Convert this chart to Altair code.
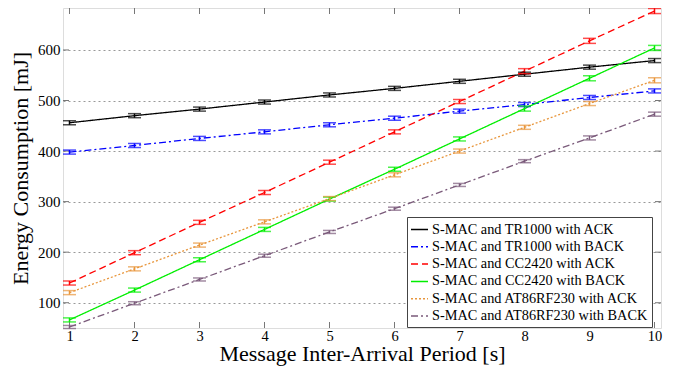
import altair as alt
import pandas as pd

periods = [1, 2, 3, 4, 5, 6, 7, 8, 9, 10]

series_names = [
    "S-MAC and TR1000 with ACK",
    "S-MAC and TR1000 with BACK",
    "S-MAC and CC2420 with ACK",
    "S-MAC and CC2420 with BACK",
    "S-MAC and AT86RF230 with ACK",
    "S-MAC and AT86RF230 with BACK",
]

tr1000_ack = [456, 470, 483, 497, 511, 524, 538, 552, 566, 579]
tr1000_back = [398, 411, 425, 438, 452, 465, 479, 492, 506, 519]
cc2420_ack = [139, 199, 259, 318, 378, 438, 498, 558, 618, 677]
cc2420_back = [66, 125, 185, 245, 305, 364, 424, 484, 544, 604]
at86_ack = [120, 167, 214, 260, 306, 353, 400, 447, 494, 540]
at86_back = [52, 99, 146, 193, 240, 286, 333, 380, 426, 473]

err_tr1000_ack = [4, 4, 4, 4, 4, 4, 4, 4, 4, 4]
err_tr1000_back = [4, 4, 4, 4, 4, 4, 4, 4, 4, 4]
err_cc2420_ack = [4, 4, 4, 4, 4, 4, 4, 5, 5, 5]
err_cc2420_back = [4, 4, 4, 4, 4, 4, 4, 5, 5, 5]
err_at86_ack = [4, 4, 4, 4, 4, 4, 4, 4, 4, 5]
err_at86_back = [3, 3, 3, 3, 3, 3, 3, 3, 4, 4]

x_ticks = [1, 2, 3, 4, 5, 6, 7, 8, 9, 10]
y_ticks = [100, 200, 300, 400, 500, 600]

colors = ["#000000", "#0000ff", "#ff0000", "#00ee00", "#e8963c", "#7a5a7a"]
dashes = [[1, 0], [7, 3, 2, 3], [7, 4], [1, 0], [2, 2], [7, 3, 2, 3]]

all_vals = [tr1000_ack, tr1000_back, cc2420_ack, cc2420_back, at86_ack, at86_back]
all_errs = [err_tr1000_ack, err_tr1000_back, err_cc2420_ack, err_cc2420_back, err_at86_ack, err_at86_back]

rows = []
for name, vals, errs in zip(series_names, all_vals, all_errs):
    for p, v, e in zip(periods, vals, errs):
        rows.append({"series": name, "period": p, "energy": v, "lo": v - e, "hi": v + e})
df = pd.DataFrame(rows)

W, H = 598, 320
FONT = "Liberation Serif"

xscale = alt.Scale(domain=[0.9, 10.1], nice=False, zero=False)
yscale = alt.Scale(domain=[50, 683], nice=False, zero=False)

leg = alt.Legend(title=None, orient="none", legendX=344, legendY=209)

color_enc = alt.Color("series:N", scale=alt.Scale(domain=series_names, range=colors), legend=leg)
dash_enc = alt.StrokeDash("series:N", scale=alt.Scale(domain=series_names, range=dashes), legend=leg)

base = alt.Chart(df)

lines = base.mark_line(strokeWidth=1.3).encode(
    x=alt.X("period:Q", scale=xscale,
            axis=alt.Axis(values=x_ticks, title="Message Inter-Arrival Period [s]",
                          grid=False, ticks=False, domain=False, labelFont=FONT,
                          labelFontSize=14.5, labelColor="#000", labelPadding=1,
                          titleFont=FONT, titleFontSize=22, titleFontWeight="normal",
                          titleColor="#000", titlePadding=1, format="d")),
    y=alt.Y("energy:Q", scale=yscale,
            axis=alt.Axis(values=y_ticks, title="Energy Consumption [mJ]",
                          grid=True, gridDash=[2, 3], gridColor="#999", gridWidth=1,
                          ticks=False, domain=False, labelFont=FONT, labelFontSize=15,
                          labelColor="#000", labelPadding=3, titleFont=FONT,
                          titleFontSize=22, titleFontWeight="normal", titleColor="#000",
                          titlePadding=5)),
    color=color_enc,
    strokeDash=dash_enc,
    order="period:Q",
)

ebars = base.mark_rule(strokeWidth=1.5).encode(
    x="period:Q",
    y="lo:Q",
    y2="hi:Q",
    color=alt.Color("series:N", scale=alt.Scale(domain=series_names, range=colors), legend=None),
)
caps_lo = base.mark_tick(orient="horizontal", size=13, thickness=1.5).encode(
    x="period:Q", y="lo:Q",
    color=alt.Color("series:N", scale=alt.Scale(domain=series_names, range=colors), legend=None),
)
caps_hi = base.mark_tick(orient="horizontal", size=13, thickness=1.5).encode(
    x="period:Q", y="hi:Q",
    color=alt.Color("series:N", scale=alt.Scale(domain=series_names, range=colors), legend=None),
)

xt = pd.DataFrame({"t": x_ticks})
yt = pd.DataFrame({"t": y_ticks})
tick_col = "#777"
xt_top = alt.Chart(xt).mark_rule(color=tick_col, strokeWidth=1).encode(
    x=alt.X("t:Q", scale=xscale), y=alt.value(0), y2=alt.value(6))
xt_bot = alt.Chart(xt).mark_rule(color=tick_col, strokeWidth=1).encode(
    x=alt.X("t:Q", scale=xscale), y=alt.value(H), y2=alt.value(H - 6))
yt_left = alt.Chart(yt).mark_rule(color=tick_col, strokeWidth=1).encode(
    y=alt.Y("t:Q", scale=yscale), x=alt.value(0), x2=alt.value(6))
yt_right = alt.Chart(yt).mark_rule(color=tick_col, strokeWidth=1).encode(
    y=alt.Y("t:Q", scale=yscale), x=alt.value(W), x2=alt.value(W - 6))

chart = alt.layer(xt_top, xt_bot, yt_left, yt_right, lines, ebars, caps_lo, caps_hi).properties(
    width=W, height=H,
    autosize=alt.AutoSizeParams(type="none"),
    padding={"left": 55, "top": 0, "right": 5, "bottom": 40},
).configure_view(stroke="#555", strokeWidth=1).configure(background="white").configure_legend(
    labelFont=FONT, labelFontSize=14.3, labelColor="#000",
    symbolType="stroke", symbolSize=289, symbolStrokeWidth=1.5,
    rowPadding=0.3, padding=3, strokeColor="#444", fillColor="white",
    labelLimit=400, labelOffset=3, cornerRadius=0,
)

chart.save("out.html", embed_options={"renderer": "svg", "actions": False})
